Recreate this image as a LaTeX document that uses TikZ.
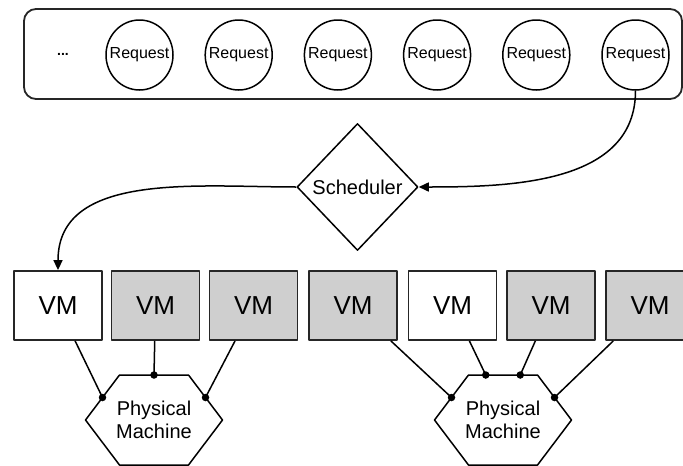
\documentclass[tikz,border=0pt]{standalone}
\usepackage{fontspec}
\setmainfont{Liberation Sans}
\usetikzlibrary{shapes.geometric,arrows.meta,calc}
\begin{document}
\begin{tikzpicture}[x=1pt,y=-1pt,
  line join=round,
  frame/.style={draw=black!85, line width=1.8pt, rounded corners=12pt, minimum width=658pt, minimum height=90pt, inner sep=0pt},
  req/.style={ellipse, draw=black, line width=1.5pt, minimum width=67pt, minimum height=70pt, inner sep=0pt, font=\fontsize{16}{18}\selectfont},
  sched/.style={diamond, draw=black, line width=1.5pt, minimum width=121pt, minimum height=127pt, inner sep=0pt, fill=white, font=\fontsize{20}{24}\selectfont},
  vm/.style={rectangle, draw=black!85, line width=1.8pt, minimum width=88pt, minimum height=69pt, inner sep=0pt, font=\fontsize{26}{30}\selectfont},
  busy/.style={vm, fill=black!19},
  idle/.style={vm, fill=white},
  pmtext/.style={align=center, font=\fontsize{20}{23}\selectfont, inner sep=0pt},
  hexline/.style={draw=black, line width=1.5pt},
  link/.style={draw=black, line width=1.5pt},
  flow/.style={draw=black, line width=1.5pt, -{Triangle[length=10pt,width=9pt]}},
  dot/.style={circle, fill=black, inner sep=0pt, minimum size=7.5pt},
]
\useasboundingbox (0,0) rectangle (683,466);

% request queue
\node[frame] (queue) at (353,54) {};
\node[font=\bfseries\fontsize{14}{16}\selectfont] (more) at (63,54) {...};
\foreach \i/\x in {1/139.5,2/238.7,3/337.9,4/437.1,5/536.3,6/635.5}
  \node[req] (r\i) at (\x,55) {\makebox[0pt]{Request}};

% scheduler
\node[sched] (s) at (357.5,187) {Scheduler};

% virtual machines
\node[idle] (vm1) at (58,305.5) {VM};
\node[busy] (vm2) at (155.5,305.5) {VM};
\node[busy] (vm3) at (253.5,305.5) {VM};
\node[busy] (vm4) at (353,305.5) {VM};
\node[idle] (vm5) at (452.5,305.5) {VM};
\node[busy] (vm6) at (551,305.5) {VM};
\node[busy] (vm7) at (650,305.5) {VM};

% request flow
\draw[flow] (r6.south) to[out=-90,in=0] (s.east);
\draw[flow] (s.west) to[out=180,in=90] (vm1.north);

% physical machines
\node[pmtext] (pm1) at (154,420) {Physical\\Machine};
\node[pmtext] (pm2) at (503,420) {Physical\\Machine};
\foreach \p in {pm1,pm2}
  \draw[hexline] (\p) ++(-68.5,0) coordinate (\p-w) -- ++(34,-45) coordinate (\p-nw)
    -- ++(69,0) coordinate (\p-ne) -- ++(34,45) coordinate (\p-e)
    -- ++(-34,45) coordinate (\p-se) -- ++(-69,0) coordinate (\p-sw) -- cycle;

% attachment points
\node[dot] (a1) at ($(pm1-w)!0.5!(pm1-nw)$) {};
\node[dot] (a2) at ($(pm1-nw)!0.5!(pm1-ne)$) {};
\node[dot] (a3) at ($(pm1-ne)!0.5!(pm1-e)$) {};
\node[dot] (b1) at ($(pm2-w)!0.5!(pm2-nw)$) {};
\node[dot] (b2) at ($(pm2-nw)!0.25!(pm2-ne)$) {};
\node[dot] (b3) at ($(pm2-nw)!0.75!(pm2-ne)$) {};
\node[dot] (b4) at ($(pm2-ne)!0.5!(pm2-e)$) {};

\draw[link] (vm1) -- (a1.center);
\draw[link] (vm2) -- (a2.center);
\draw[link] (vm3) -- (a3.center);
\draw[link] (vm4) -- (b1.center);
\draw[link] (vm5) -- (b2.center);
\draw[link] (vm6) -- (b3.center);
\draw[link] (vm7) -- (b4.center);
\end{tikzpicture}
\end{document}
